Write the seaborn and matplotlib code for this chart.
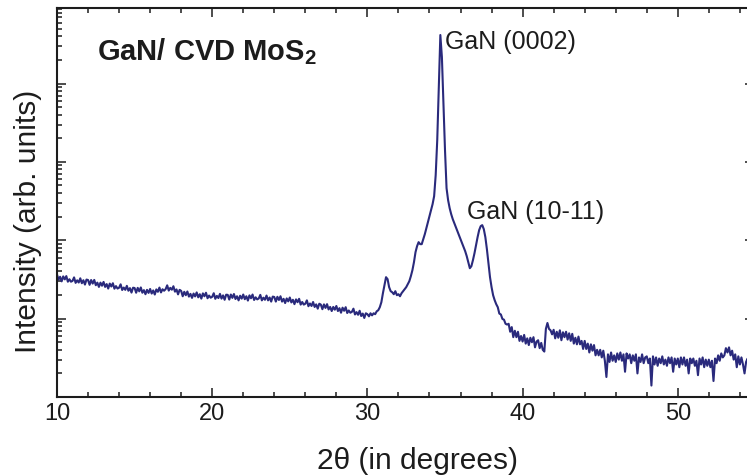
import numpy as np
import pandas as pd
import matplotlib
matplotlib.use("Agg")
import matplotlib.pyplot as plt
from matplotlib.ticker import LogLocator, MultipleLocator, NullFormatter, FixedLocator
import seaborn as sns

# XRD scan, 0.1 degree step starting at 2theta = 10
SCAN_START = 10.0
SCAN_STEP = 0.1

# counts, 10.0 - 29.9 deg
counts_low = [
    365, 315, 342, 299, 346, 317, 349, 296, 318, 296,
    303, 336, 286, 308, 289, 327, 283, 309, 272, 315,
    311, 270, 311, 280, 312, 267, 288, 254, 288, 263,
    294, 254, 276, 242, 280, 257, 283, 241, 260, 242,
    248, 274, 232, 249, 233, 262, 227, 245, 215, 248,
    246, 214, 247, 223, 250, 214, 231, 205, 233, 213,
    239, 209, 229, 203, 236, 220, 249, 216, 237, 227,
    238, 266, 228, 247, 234, 259, 221, 236, 204, 233,
    226, 193, 220, 199, 222, 191, 207, 184, 209, 192,
    216, 187, 205, 180, 210, 193, 214, 182, 197, 185,
    190, 211, 179, 195, 183, 207, 180, 198, 174, 202,
    201, 175, 203, 184, 206, 178, 193, 171, 196, 180,
    203, 177, 193, 170, 198, 182, 203, 173, 187, 176,
    181, 201, 171, 185, 174, 197, 171, 186, 165, 191,
    189, 165, 190, 173, 193, 165, 179, 158, 181, 166,
    186, 161, 174, 153, 176, 162, 179, 151, 163, 151,
    155, 171, 144, 156, 145, 163, 141, 152, 134, 155,
    151, 132, 152, 137, 153, 131, 141, 125, 141, 130,
    145, 125, 136, 119, 138, 126, 140, 118, 127, 119,
    122, 134, 113, 121, 112, 126, 108, 116, 102, 117,
]

# counts, 30.0 - 39.0 deg (GaN reflections)
counts_peaks = [
    114, 107, 117, 110, 117, 114, 124, 128, 140, 162,
    211, 267, 338, 319, 252, 224, 217, 205, 224, 199,
    205, 193, 211, 224, 237, 252, 275, 300, 348, 415,
    525, 705, 841, 946, 892, 892, 1033, 1197, 1428, 1704,
    2032, 2423, 2891, 3657, 6780, 18970, 85100, 416000, 218000, 53100,
    14160, 4620, 3250, 2570, 2150, 1860, 1650, 1470, 1306, 1161,
    1033, 918, 817, 726, 627, 525, 440, 467, 557, 684,
    865, 1096, 1346, 1514, 1560, 1387, 1096, 769, 510, 338,
    252, 199, 172, 153, 140, 116, 113, 99, 97, 86,
    84,
]

# counts, 39.1 - 54.6 deg
counts_high = [
    86, 68, 78, 58, 70, 58, 68, 52, 60,
    51, 62, 48, 56, 46, 57, 50, 58, 43, 51,
    53, 42, 49, 40, 38, 74, 88, 74, 71, 63,
    72, 56, 68, 57, 71, 53, 67, 58, 68, 54,
    65, 52, 64, 48, 57, 47, 59, 47, 52, 41,
    52, 41, 48, 37, 47, 39, 46, 34, 40, 34,
    40, 32, 39, 29, 18, 35, 28, 37, 29, 34,
    28, 36, 30, 37, 29, 35, 21, 36, 31, 35,
    27, 34, 29, 35, 20, 32, 28, 35, 27, 32,
    33, 27, 31, 14, 33, 26, 32, 25, 31, 27,
    33, 26, 30, 25, 32, 27, 32, 21, 31, 26,
    31, 24, 32, 26, 32, 25, 30, 20, 31, 27,
    31, 25, 29, 19, 31, 26, 32, 24, 30, 25,
    30, 24, 29, 16, 31, 27, 34, 29, 36, 32,
    34, 42, 37, 43, 34, 39, 30, 35, 24, 33,
    26, 32, 26, 20, 28, 31, 26,
]

x_major_ticks = [10, 20, 30, 40, 50]
sample_name = r"GaN/ CVD MoS$_\mathbf{2}$"
peak_names = ["GaN (0002)", "GaN (10-11)"]
peak_label_pos = [(35.0, 2.75e5), (36.42, 1.86e3)]
x_label = "2\u03b8 (in degrees)"
y_label = "Intensity (arb. units)"

intensity = np.array(counts_low + counts_peaks + counts_high, dtype=float)
two_theta = SCAN_START + SCAN_STEP * np.arange(intensity.size)
df = pd.DataFrame({"two_theta": two_theta, "intensity": intensity})

sns.set_theme(style="ticks")
plt.rcParams["font.family"] = ["Liberation Sans", "DejaVu Sans"]
plt.rcParams["mathtext.fontset"] = "custom"
plt.rcParams["mathtext.rm"] = "Liberation Sans"
plt.rcParams["mathtext.bf"] = "Liberation Sans:bold"

W, H = 747, 475
fig = plt.figure(figsize=(W / 100, H / 100), dpi=100)
fig.patch.set_facecolor("white")
right_px = 754
ax = fig.add_axes([57 / W, 1 - 397 / H, (right_px - 57) / W, (397 - 8) / H])
ax.set_facecolor("white")

line_color = "#2a2a7c"
sns.lineplot(data=df, x="two_theta", y="intensity", ax=ax, color=line_color,
             lw=1.5, estimator=None, sort=False)

ax.set_yscale("log")
ax.set_xlim(10, 10 + (right_px - 57) / 15.52)
ax.set_ylim(10, 9.2e5)

ax.xaxis.set_major_locator(FixedLocator(x_major_ticks))
ax.xaxis.set_minor_locator(MultipleLocator(2))
ax.yaxis.set_major_locator(LogLocator(base=10, numticks=12))
ax.yaxis.set_minor_locator(LogLocator(base=10, subs=np.arange(2, 10), numticks=12))
ax.yaxis.set_major_formatter(NullFormatter())
ax.yaxis.set_minor_formatter(NullFormatter())

ink = "#1c1c1c"
for side in ["left", "right", "top", "bottom"]:
    ax.spines[side].set_linewidth(1.5)
    ax.spines[side].set_color(ink)
ax.tick_params(which="both", direction="in", top=True, right=True,
               color=ink, width=1.1)
ax.tick_params(which="major", length=6.5, labelsize=17, pad=4.5, labelcolor=ink)
ax.tick_params(which="minor", length=3.6)
ax.set_xlabel("")
ax.set_ylabel("")

fig.text(417.5 / W, 1 - 469 / H, x_label, fontsize=21.5, color=ink,
         ha="center", va="baseline")
fig.text(28 / W, 1 - 221 / H, y_label, fontsize=21.5, color=ink,
         ha="center", va="center", rotation=90)

fig.text(97 / W, 1 - 60 / H, sample_name, fontsize=21, fontweight="bold",
         color=ink, ha="left", va="baseline")
for name, (px, py) in zip(peak_names, peak_label_pos):
    ax.text(px, py, name, fontsize=18, color=ink, ha="left", va="baseline")

fig.savefig("out.png", dpi=100, facecolor="white")
